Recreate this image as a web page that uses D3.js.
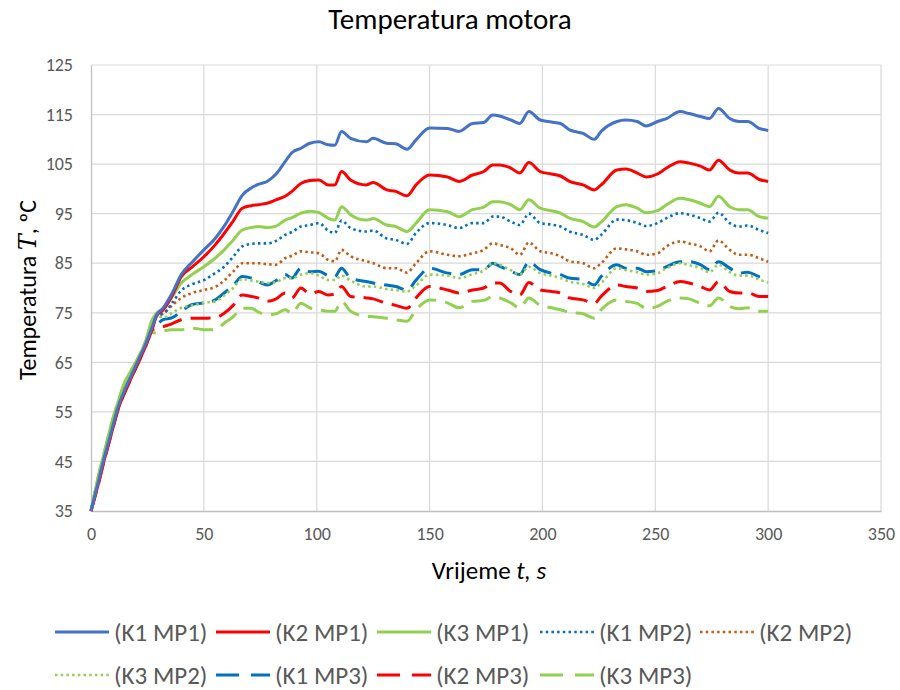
<!DOCTYPE html>
<html><head><meta charset="utf-8">
<script src="https://cdn.jsdelivr.net/npm/d3@7"></script>
<style>
body{margin:0;background:#fff;}
svg{font-family:Carlito,Lato,"Open Sans",sans-serif;}
</style></head>
<body><svg id="c" width="900" height="690"></svg>
<script>
const times = [0,3,6,9,12,15,18,21,24,27,29,
32,36,40,45,50,55,59,63,67,71,
74,78,82,86,89,93,97,101,105,108,
111,115,122,125,131,135,140,144,150,158,
163,169,174,178,181,186,190,194,199,204,
208,212,218,223,226,233,237,242,246,251,
255,261,265,270,274,278,283,287,291,296,300];

const k1mp1 = [35,40.5,46,51,56,59.5,62.5,65.5,68.5,72,74.5,
76.0,79.0,82.7,85.3,87.7,90.0,92.5,95.5,98.7,100.2,
100.9,101.5,103.0,105.5,107.3,108.2,109.2,109.5,108.9,108.8,
111.6,110.2,109.5,110.2,109.2,109.1,108.0,109.9,112.3,112.2,
111.6,113.2,113.4,114.9,114.7,113.9,113.2,115.6,113.9,113.5,
113.2,111.9,111.2,110.0,111.6,113.6,113.9,113.6,112.7,113.6,
114.2,115.6,115.2,114.6,114.2,116.2,114.2,113.6,113.6,112.2,111.8];

const k2mp1 = [35,40,45.5,50.5,55.5,59,62,65,68,71.5,74.3,
75.6,78.5,82.3,84.3,86.3,88.7,91.0,93.5,96.1,96.6,
96.8,97.1,97.8,98.5,99.5,101.1,101.7,101.8,100.8,100.8,
103.5,101.8,100.8,101.3,99.8,99.5,98.6,100.8,102.8,102.4,
101.5,102.8,103.5,104.8,104.8,104.2,103.2,105.3,103.5,103.0,
102.6,101.5,100.8,99.8,100.8,103.8,104.0,103.2,102.4,103.0,
104.2,105.5,105.2,104.6,103.8,105.8,103.8,103.2,103.2,101.9,101.5];

const k3mp1 = [35,41.5,47,52.5,57,61,63.5,66,69,73.5,74.9,
75.8,78.3,81.0,82.8,84.3,86.0,87.7,89.7,91.7,92.2,
92.4,92.2,92.5,93.7,94.2,95.1,95.5,95.2,94.1,93.7,
96.4,94.8,93.7,94.0,92.7,92.4,91.4,93.1,95.8,95.4,
94.4,95.8,96.3,97.4,97.4,96.8,95.8,97.8,96.1,95.6,
95.1,94.1,93.4,92.3,93.3,96.4,96.8,96.1,95.2,95.6,
96.8,98.1,97.8,97.1,96.4,98.5,96.4,95.8,95.8,94.4,94.1];

const k1mp2 = [35,40.5,46,51,56,59.5,62.5,65.5,68.5,72,74.5,
74.8,77.0,79.5,80.8,81.6,83.0,84.3,86.3,88.4,88.9,
89.0,89.0,89.5,90.7,91.3,92.4,92.7,93.1,91.6,91.1,
93.6,92.1,91.4,91.6,90.0,89.7,88.9,91.1,93.1,92.7,
92.1,93.1,93.1,94.4,94.4,93.4,92.7,95.0,93.1,92.8,
92.4,91.4,90.7,89.7,90.7,93.8,93.7,93.1,92.5,93.1,
94.1,95.1,94.8,94.1,93.4,95.2,93.1,92.4,92.6,91.7,91.1];

const k2mp2 = [35,40.5,46,51,56,59.5,62.5,65.5,68.5,72,74.3,
74.9,76.5,78.0,79.0,79.6,80.2,81.5,83.3,85.0,85.0,
85.0,84.8,84.7,86.0,86.5,87.4,87.2,87.0,85.7,85.4,
87.7,86.4,85.4,85.0,84.0,84.0,83.1,85.0,87.4,86.7,
86.4,87.0,87.7,89.0,88.7,88.0,86.7,89.2,87.4,87.0,
86.4,85.4,85.0,84.0,85.0,88.0,87.8,87.4,86.7,87.0,
88.4,89.4,89.0,88.4,87.4,89.6,87.7,86.7,86.7,86.0,85.3];

const k3mp2 = [35,41,46.5,52,56.5,60.5,63,66,69,73,74.5,
74.0,75.0,76.0,76.5,77.0,77.3,78.5,80.0,81.8,81.5,
81.3,81.0,81.2,82.0,82.0,82.7,83.0,82.5,81.6,81.6,
82.5,81.5,80.3,80.3,79.8,79.6,79.3,80.5,82.7,82.5,
82.0,82.8,83.5,85.0,84.7,83.6,82.7,84.3,83.0,82.5,
82.0,81.3,80.8,80.0,81.0,84.0,83.6,83.2,82.7,83.0,
84.0,85.0,84.6,84.0,83.2,84.7,83.2,82.5,82.5,81.7,81.1];

const k1mp3 = [35,40.5,46,51,56,59.5,62.5,65.5,68.5,72,72.6,
73.6,74.0,75.3,76.7,77.0,77.6,79.0,80.5,82.3,82.0,
81.3,80.6,81.5,82.7,82.0,84.0,83.3,83.4,82.5,82.3,
84.0,82.0,81.3,81.0,80.6,80.3,79.6,81.6,84.0,83.0,
82.7,83.7,83.7,85.0,84.4,83.4,82.7,85.3,83.7,83.0,
82.7,82.0,81.7,80.6,82.3,84.7,84.0,84.0,83.3,83.5,
84.3,85.3,85.3,84.7,83.7,85.3,84.0,83.0,83.2,82.3,82.0];

const k2mp3 = [35,40,45.5,50.5,55.5,59,62,65,68,71.5,71.8,
72.2,72.8,73.6,73.9,73.9,74.0,74.9,76.5,78.6,78.3,
78.0,77.3,77.8,79.0,78.0,80.0,78.8,79.3,78.6,78.8,
80.3,78.3,78.0,77.8,76.9,76.5,75.9,78.0,80.3,79.6,
79.0,79.6,80.0,81.0,81.0,79.3,78.6,81.1,79.6,79.3,
79.0,78.0,77.6,76.9,78.3,80.6,80.3,80.0,79.3,79.5,
80.3,81.3,81.0,80.3,79.6,81.3,79.3,79.0,79.0,78.3,78.3];

const k3mp3 = [35,41.5,47,52.5,57,61,63.5,66,69,71,70.9,
71.3,71.6,71.6,71.9,71.6,71.6,72.9,74.2,75.9,75.9,
75.2,74.6,74.8,75.6,74.9,76.9,76.0,75.6,75.3,75.3,
77.3,75.3,74.3,74.2,73.9,73.6,73.3,75.6,77.6,77.0,
76.0,77.3,77.5,78.3,78.0,77.0,76.0,78.0,76.5,76.0,
75.6,75.1,74.8,73.9,75.6,77.6,77.3,76.9,75.9,76.3,
77.3,78.0,77.8,76.9,76.4,78.0,76.3,75.8,76.0,75.3,75.3];

const seriesNames = ["(K1 MP1)","(K2 MP1)","(K3 MP1)","(K1 MP2)","(K2 MP2)","(K3 MP2)","(K1 MP3)","(K2 MP3)","(K3 MP3)"];
const seriesColors = ["#4472C4","#FF0000","#92D050","#0070C0","#C55A11","#92D050","#0070C0","#FF0000","#92D050"];
const seriesStyles = ["solid","solid","solid","dot","dot","dot","dash","dash","dash"];
const seriesValues = [k1mp1,k2mp1,k3mp1,k1mp2,k2mp2,k3mp2,k1mp3,k2mp3,k3mp3];

const xTicks = [0,50,100,150,200,250,300,350];
const yTicks = [35,45,55,65,75,85,95,105,115,125];

const svg = d3.select("#c");
const L=91,R=881,T=65,B=511;
const x = d3.scaleLinear().domain([0,350]).range([L,R]);
const y = d3.scaleLinear().domain([35,125]).range([B,T]);

// gridlines
svg.append("g").selectAll("line").data(yTicks.slice(1)).join("line")
  .attr("x1",L).attr("x2",R).attr("y1",d=>y(d)).attr("y2",d=>y(d))
  .attr("stroke","#d9d9d9").attr("stroke-width",1.2);
svg.append("g").selectAll("line").data(xTicks.slice(1)).join("line")
  .attr("y1",T).attr("y2",B).attr("x1",d=>x(d)).attr("x2",d=>x(d))
  .attr("stroke","#d9d9d9").attr("stroke-width",1.2);

// axes
const xAxis = svg.append("g").attr("transform",`translate(0,${B})`)
  .call(d3.axisBottom(x).tickValues(xTicks).tickSize(0).tickPadding(16));
xAxis.select(".domain").attr("stroke","#bfbfbf").attr("stroke-width",1.3);
xAxis.selectAll("text").attr("fill","#595959").attr("font-size",18).attr("font-family","Carlito,Lato");
const yAxis = svg.append("g").attr("transform",`translate(${L},0)`)
  .call(d3.axisLeft(y).tickValues(yTicks).tickSize(0).tickPadding(18));
yAxis.select(".domain").attr("stroke","#bfbfbf").attr("stroke-width",1.3);
yAxis.selectAll("text").attr("fill","#595959").attr("font-size",18).attr("font-family","Carlito,Lato");

const dashOf = s => s==="dot" ? "2.5,3.2" : s==="dash" ? "20,9" : null;
const widthOf = s => s==="dot" ? 2.6 : 3;

const line = d3.line().x((d,i)=>x(times[i])).y(d=>y(d)).curve(d3.curveMonotoneX);
const g = svg.append("g");
// draw in reverse so K1 MP1 on top
seriesValues.map((v,i)=>i).reverse().forEach(i=>{
  g.append("path").datum(seriesValues[i]).attr("d",line)
   .attr("fill","none").attr("stroke",seriesColors[i])
   .attr("stroke-width",widthOf(seriesStyles[i]))
   .attr("stroke-dasharray",dashOf(seriesStyles[i]))
   .attr("stroke-linejoin","round");
});

// title
svg.append("text").attr("x",450).attr("y",29).attr("text-anchor","middle")
  .attr("font-size",29).attr("fill","#000").text("Temperatura motora");

// x title
const xt = svg.append("text").attr("x",489).attr("y",579).attr("text-anchor","middle")
  .attr("font-size",25).attr("fill","#000");
xt.append("tspan").text("Vrijeme ");
xt.append("tspan").attr("font-style","italic").text("t, s");

// y title
const yt = svg.append("text").attr("transform","translate(36,290) rotate(-90)")
  .attr("text-anchor","middle").attr("font-size",24).attr("fill","#000");
yt.append("tspan").text("Temperatura  ");
yt.append("tspan").attr("font-style","italic").attr("font-family","DejaVu Serif").text("T");
yt.append("tspan").text(", ºC");

// legend
const legRows = [[0,1,2,3,4],[5,6,7,8]];
const legX = [55,216,377,540,700];
const legY = [632,675];
const lg = svg.append("g");
legRows.forEach((row,ri)=>{
  row.forEach((si,ci)=>{
    const x0 = legX[ci], yy = legY[ri];
    lg.append("line").attr("x1",x0).attr("x2",x0+54).attr("y1",yy).attr("y2",yy)
      .attr("stroke",seriesColors[si]).attr("stroke-width",widthOf(seriesStyles[si]))
      .attr("stroke-dasharray", seriesStyles[si]==="dash" ? "23,12" : dashOf(seriesStyles[si]));
    lg.append("text").attr("x",x0+59).attr("y",yy).attr("dy","0.35em")
      .attr("font-size",25).attr("fill","#595959").text(seriesNames[si]);
  });
});
</script></body></html>
